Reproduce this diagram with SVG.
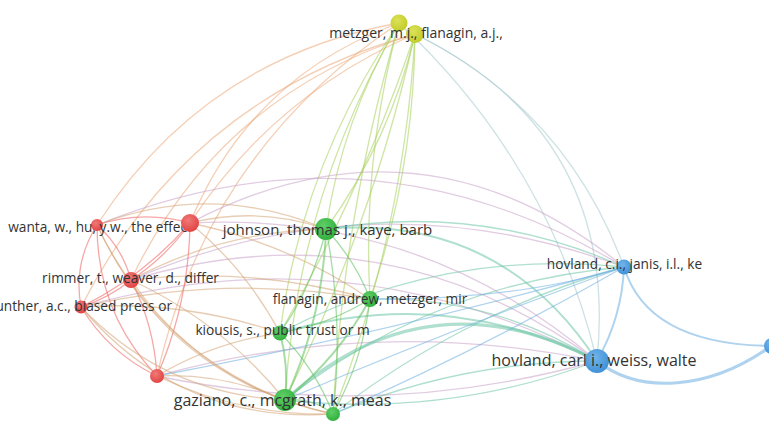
<svg xmlns="http://www.w3.org/2000/svg" width="769" height="437" viewBox="0 0 769 437">
<defs>
<radialGradient id="gr" cx="0.4" cy="0.35" r="0.7"><stop offset="0" stop-color="#f07a78"/><stop offset="1" stop-color="#e0403f"/></radialGradient>
<radialGradient id="gg" cx="0.4" cy="0.35" r="0.7"><stop offset="0" stop-color="#5fcf66"/><stop offset="1" stop-color="#2fae3c"/></radialGradient>
<radialGradient id="gy" cx="0.4" cy="0.35" r="0.7"><stop offset="0" stop-color="#dce25a"/><stop offset="1" stop-color="#bfcb24"/></radialGradient>
<radialGradient id="gb" cx="0.4" cy="0.35" r="0.7"><stop offset="0" stop-color="#72b4ea"/><stop offset="1" stop-color="#3d8fd6"/></radialGradient>
</defs>
<style>
path{fill:none;stroke-width:1.3;stroke-opacity:0.55;stroke-linecap:round}
.r{stroke:#ee5f5c}.g{stroke:#5cc05c}.b{stroke:#6eaee0}
.ry{stroke:#eba878}.gy{stroke:#a6d05a}.yb{stroke:#a6c8cc}
.rb{stroke:#c8a2c8}.gb{stroke:#6ec4a6}.rg{stroke:#d3a476}
.w2{stroke-width:2}.w3{stroke-width:3.2}
.nr{fill:url(#gr)}.ng{fill:url(#gg)}.ny{fill:url(#gy)}.nb{fill:url(#gb)}
text{font-family:"Open Sans","Noto Sans","Liberation Sans",sans-serif;fill:#333;text-anchor:middle}
.s13{font-size:13.7px}.s14{font-size:14px}.s15{font-size:15px}.s16{font-size:16px}
</style>
<rect width="769" height="437" fill="#fff"/>
<g id="connectors">
<path class="ry" d="M97,225 Q204,58 399,23"/>
<path class="ry" d="M190,223 Q250,77 399,23"/>
<path class="ry" d="M131,280 Q219,95 415,34"/>
<path class="ry" d="M81,307 Q188,97 415,34"/>
<path class="ry" d="M157,376 Q207,151 399,23"/>
<path class="ry" d="M190,223 Q274,95 415,34"/>
<path class="gy" d="M326,229 Q342,119 399,23"/>
<path class="gy" d="M326,229 Q390,140 415,34"/>
<path class="gy" d="M370,299 Q362,159 399,23"/>
<path class="gy" d="M370,299 Q414,170 415,34"/>
<path class="gy" d="M280,333 Q302,164 399,23"/>
<path class="gy" d="M280,333 Q362,190 415,34"/>
<path class="gy" d="M285,400 Q297,198 399,23"/>
<path class="gy" d="M285,400 Q372,225 415,34"/>
<path class="gy" d="M333,414 Q404,231 415,34"/>
<path class="gy" d="M333,414 Q343,214 399,23"/>
<path class="yb" d="M415,34 Q566,109 624,267"/>
<path class="yb" d="M415,34 Q620,134 597,361"/>
<path class="yb" d="M399,23 Q549,162 597,361"/>
<path class="rb" d="M190,223 Q421,102 624,267"/>
<path class="rb" d="M97,225 Q371,114 624,267"/>
<path class="rb" d="M131,280 Q384,204 597,361"/>
<path class="rb" d="M190,223 Q421,211 597,361"/>
<path class="rb" d="M81,307 Q350,231 597,361"/>
<path class="rb" d="M157,376 Q375,316 597,361"/>
<path class="rb" d="M131,280 Q375,175 624,267"/>
<path class="rb" d="M597,361 Q379,422 157,376"/>
<path class="gb w3" d="M285,400 Q427,271 597,361"/>
<path class="gb w2" d="M280,333 Q444,284 597,361"/>
<path class="gb w2" d="M326,229 Q501,214 597,361"/>
<path class="gb" d="M370,299 Q493,296 597,361"/>
<path class="gb" d="M333,414 Q460,361 597,361"/>
<path class="gb" d="M285,400 Q434,283 624,267"/>
<path class="gb" d="M280,333 Q442,248 624,267"/>
<path class="gb" d="M326,229 Q481,203 624,267"/>
<path class="gb" d="M333,414 Q464,312 624,267"/>
<path class="gb" d="M597,361 Q446,418 285,400"/>
<path class="b" d="M624,267 Q450,330 285,400"/>
<path class="b" d="M624,267 Q480,350 333,414"/>
<path class="b" d="M624,267 Q520,300 370,299"/>
<path class="b" d="M624,267 Q400,330 157,376"/>
<path class="b w2" d="M624,267 Q622,317 597,361"/>
<path class="b w2" d="M624,267 C640,320 690,345 771,346"/>
<path class="b w3" d="M597,361 C640,395 710,390 771,346"/>
<path class="r" d="M97,225 Q143,210 190,223"/>
<path class="r" d="M97,225 Q122,247 131,280"/>
<path class="r" d="M81,307 Q73,263 97,225"/>
<path class="r" d="M157,376 Q97,313 97,225"/>
<path class="r" d="M190,223 Q166,257 131,280"/>
<path class="r" d="M190,223 Q144,276 81,307"/>
<path class="r" d="M190,223 Q189,303 157,376"/>
<path class="r" d="M131,280 Q109,298 81,307"/>
<path class="r" d="M131,280 Q154,325 157,376"/>
<path class="r" d="M81,307 Q109,353 157,376"/>
<path class="rg" d="M190,223 Q259,206 326,229"/>
<path class="rg" d="M131,280 Q222,231 326,229"/>
<path class="rg" d="M97,225 Q212,181 326,229"/>
<path class="rg" d="M131,280 Q252,266 370,299"/>
<path class="rg" d="M81,307 Q183,300 280,333"/>
<path class="rg" d="M131,280 Q222,322 285,400"/>
<path class="rg" d="M157,376 Q224,373 285,400"/>
<path class="rg" d="M333,414 Q240,416 157,376"/>
<path class="rg" d="M285,400 Q164,394 81,307"/>
<path class="rg" d="M333,414 Q168,378 97,225"/>
<path class="rg" d="M333,414 Q205,387 131,280"/>
<path class="rg" d="M190,223 Q246,269 280,333"/>
<path class="rg" d="M190,223 Q288,243 370,299"/>
<path class="rg" d="M81,307 Q225,274 370,299"/>
<path class="rg" d="M285,400 Q156,350 97,225"/>
<path class="rg" d="M157,376 Q214,342 280,333"/>
<path class="rg" d="M333,414 Q180,424 81,307"/>
<path class="g" d="M326,229 Q355,260 370,299"/>
<path class="g" d="M326,229 Q313,286 280,333"/>
<path class="g w2" d="M326,229 Q323,319 285,400"/>
<path class="g" d="M326,229 Q344,321 333,414"/>
<path class="g" d="M370,299 Q328,325 280,333"/>
<path class="g w2" d="M370,299 Q338,358 285,400"/>
<path class="g" d="M370,299 Q363,360 333,414"/>
<path class="g w2" d="M280,333 Q289,366 285,400"/>
<path class="g" d="M280,333 Q315,368 333,414"/>
<path class="g" d="M285,400 Q312,397 333,414"/>
</g>
<g id="node-metzger-mj"><circle class="ny" cx="399" cy="23" r="8.5"/></g>
<g id="node-metzger-flanagin"><circle class="ny" cx="415" cy="34" r="9"/><text class="s14" x="416" y="38">metzger, m.j., flanagin, a.j.,</text></g>
<g id="node-wanta"><circle class="nr" cx="97" cy="225" r="6"/><text class="s13" x="187" y="232" style="text-anchor:end">wanta, w., hu, y.w., the effec</text></g>
<g id="node-red-2"><circle class="nr" cx="190" cy="223" r="9"/></g>
<g id="node-rimmer"><circle class="nr" cx="131" cy="280" r="8"/><text class="s13" x="130.5" y="283">rimmer, t., weaver, d., differ</text></g>
<g id="node-gunther"><circle class="nr" cx="81" cy="307" r="6.5"/><text class="s13" x="172" y="311" style="text-anchor:end">gunther, a.c., biased press or</text></g>
<g id="node-red-5"><circle class="nr" cx="157" cy="376" r="7"/></g>
<g id="node-johnson"><circle class="ng" cx="326" cy="229" r="11"/><text class="s15" x="327.5" y="235">johnson, thomas j., kaye, barb</text></g>
<g id="node-flanagin-andrew"><circle class="ng" cx="370" cy="299" r="8"/><text class="s13" x="370" y="304">flanagin, andrew, metzger, mir</text></g>
<g id="node-kiousis"><circle class="ng" cx="280" cy="333" r="7.5"/><text class="s13" x="282.5" y="335">kiousis, s., public trust or m</text></g>
<g id="node-gaziano"><circle class="ng" cx="285" cy="400" r="11"/><text class="s16" x="282.5" y="406">gaziano, c., mcgrath, k., meas</text></g>
<g id="node-green-5"><circle class="ng" cx="333" cy="414" r="7"/></g>
<g id="node-hovland-ci"><circle class="nb" cx="624" cy="267" r="7.5"/><text class="s13" x="624.5" y="269">hovland, c.i., janis, i.l., ke</text></g>
<g id="node-hovland-carl"><circle class="nb" cx="597" cy="361" r="12"/><text class="s16" x="594" y="366">hovland, carl i., weiss, walte</text></g>
<g id="node-blue-3"><circle class="nb" cx="772" cy="346" r="8"/></g>
</svg>
